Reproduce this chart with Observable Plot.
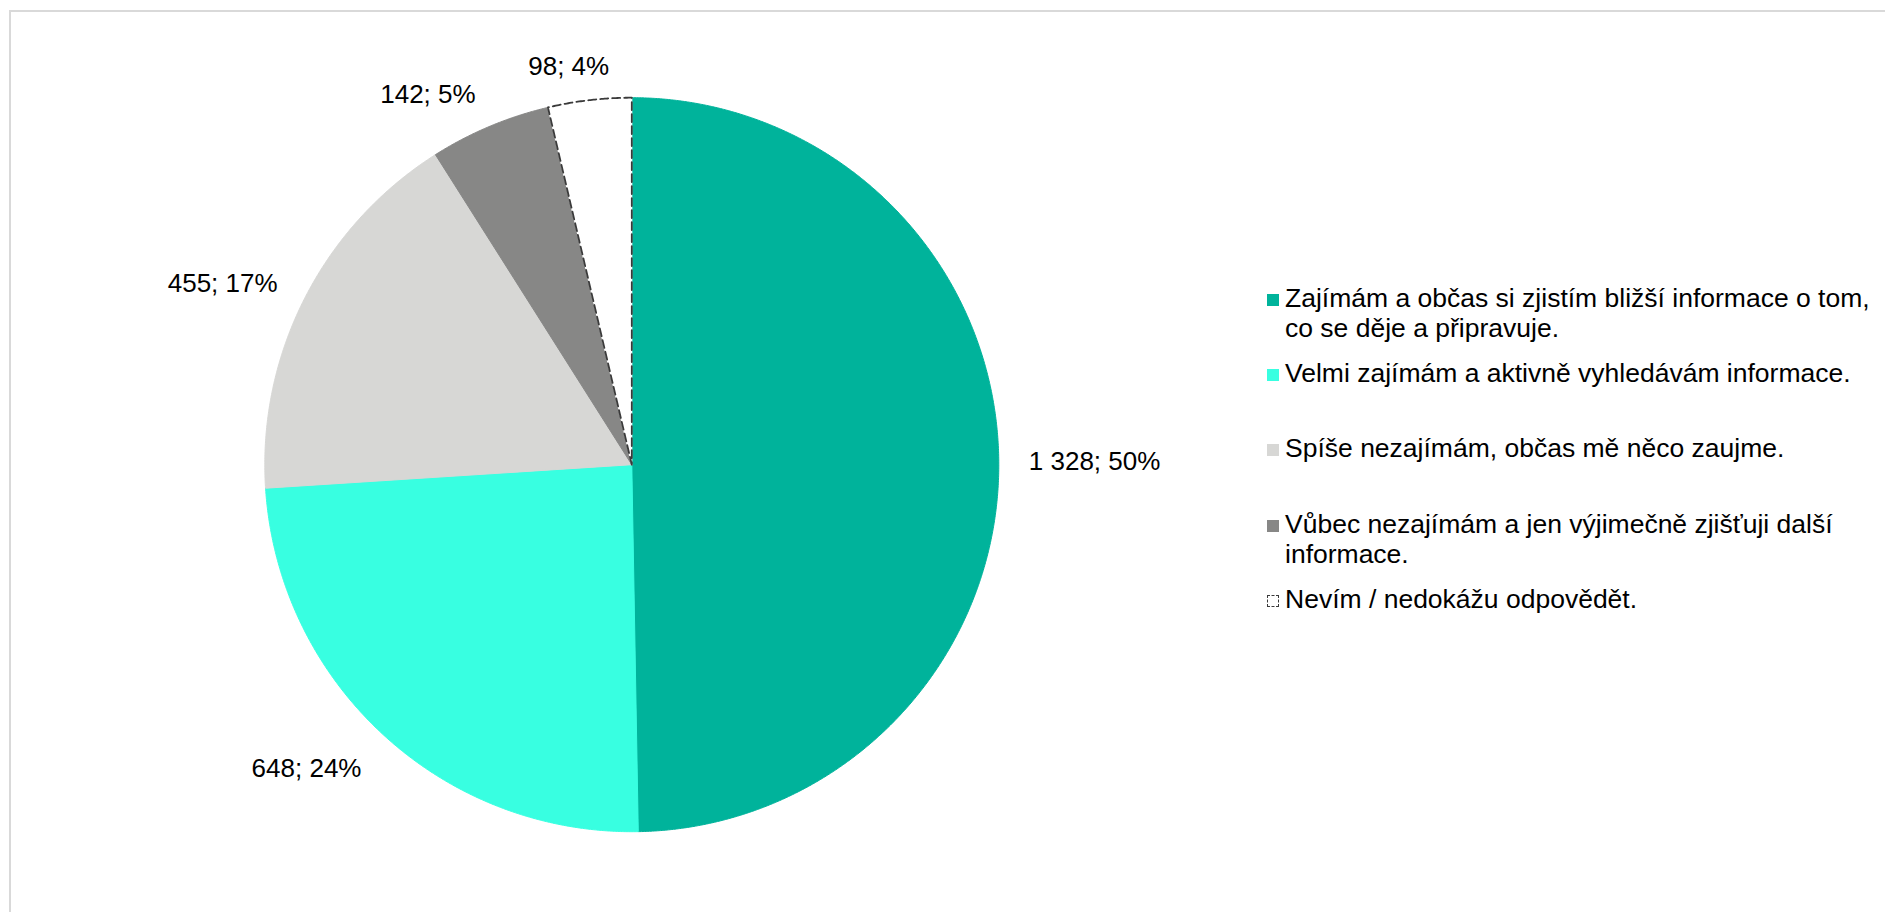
<!DOCTYPE html>
<html>
<head>
<meta charset="utf-8">
<script src="https://cdn.jsdelivr.net/npm/d3@7"></script>
<script src="https://cdn.jsdelivr.net/npm/@observablehq/plot@0.6"></script>
<style>
html, body { margin: 0; padding: 0; background: #fff; overflow: hidden; width: 1885px; height: 912px; }
#frame { position: absolute; left: 9px; top: 10px; width: 3000px; height: 3000px; border: 2px solid #d9d9d9; }
#chart { position: absolute; left: 0; top: 0; }
#legend { position: absolute; left: 1267px; top: 282.9px; font-family: "Liberation Sans", Arial, sans-serif; font-size: 26.5px; line-height: 30.5px; color: #000; }
.item { position: relative; height: 75.3px; padding-left: 18px; white-space: pre; }
.sw { position: absolute; left: 0; top: 11px; width: 12px; height: 12px; box-sizing: border-box; }
</style>
</head>
<body>
<div id="frame"></div>
<div id="chart"></div>
<div id="legend"></div>
<script>
// ---- data ----
const categories = [
  "Zajímám a občas si zjistím bližší informace o tom, co se děje a připravuje.",
  "Velmi zajímám a aktivně vyhledávám informace.",
  "Spíše nezajímám, občas mě něco zaujme.",
  "Vůbec nezajímám a jen výjimečně zjišťuji další informace.",
  "Nevím / nedokážu odpovědět."
];
const legendLines = [
  "Zajímám a občas si zjistím bližší informace o tom,\nco se děje a připravuje.",
  "Velmi zajímám a aktivně vyhledávám informace.",
  "Spíše nezajímám, občas mě něco zaujme.",
  "Vůbec nezajímám a jen výjimečně zjišťuji další\ninformace.",
  "Nevím / nedokážu odpovědět."
];
const values = [1328, 648, 455, 142, 98];
const colors = ["#00B39B", "#38FFE1", "#D7D7D5", "#878786", "#FFFFFF"];

// ---- layout ----
const W = 1885, H = 912;
const CX = 631.3, CY = 464.2, R = 367;
const LABEL_FONT = 26;
const total = d3.sum(values);
const fmt = d3.formatLocale({decimal: ",", thousands: " ", grouping: [3], currency: ["", ""]}).format(",d");

const canvas = document.createElement("canvas");
const ctx = canvas.getContext("2d");
ctx.font = LABEL_FONT + "px 'Liberation Sans'";

const clamp = t => Math.max(-1, Math.min(1, t));
let cum = 0;
const slices = [];
const labels = [];
values.forEach((v, i) => {
  const a0 = cum / total * 2 * Math.PI;
  cum += v;
  const a1 = cum / total * 2 * Math.PI;
  const pts = [{x: 0, y: 0}];
  const n = Math.max(2, Math.ceil((a1 - a0) / (0.25 * Math.PI / 180)));
  for (let k = 0; k <= n; k++) {
    const a = a0 + (a1 - a0) * k / n;
    pts.push({x: Math.sin(a), y: Math.cos(a)});
  }
  pts.push({x: 0, y: 0});
  slices.push(pts);

  // outside-end data label, placed beyond the arc along the slice bisector
  const text = fmt(v) + "; " + Math.round(v / total * 100) + "%";
  const mid = (a0 + a1) / 2;
  const ux = Math.sin(mid), uy = -Math.cos(mid);   // screen direction (y down)
  const w = ctx.measureText(text).width;
  const g = 26;
  const offX = g * ux + (w / 2 + 4) * clamp(3.5 * ux);
  const offY = g * uy + (uy > 0 ? 19 : 9) * uy + 1;
  labels.push({text, x: ux + offX / R, y: -uy - offY / R});
});

const marks = slices.map((pts, i) =>
  Plot.line(pts, {x: "x", y: "y", fill: colors[i], stroke: colors[i], strokeWidth: 1, curve: "linear"})
);
marks.push(Plot.line(slices[4], {x: "x", y: "y", stroke: "#3a3a3a", strokeWidth: 1.8, strokeDasharray: "8,4", curve: "linear"}));
marks.push(Plot.text(labels, {x: "x", y: "y", text: "text", fontSize: LABEL_FONT, textAnchor: "middle", lineAnchor: "middle", fill: "#000"}));

const plot = Plot.plot({
  width: W,
  height: H,
  margin: 0,
  x: {domain: [-1, 1], range: [CX - R, CX + R], axis: null},
  y: {domain: [-1, 1], range: [CY + R, CY - R], axis: null},
  style: {fontFamily: "'Liberation Sans', Arial, sans-serif", background: "transparent", overflow: "visible"},
  marks
});
document.getElementById("chart").appendChild(plot);

// ---- legend ----
const legend = document.getElementById("legend");
legendLines.forEach((t, i) => {
  const item = document.createElement("div");
  item.className = "item";
  const sw = document.createElement("div");
  sw.className = "sw";
  if (i === 4) {
    sw.style.background = "#fff";
    sw.style.border = "1px dashed #3a3a3a";
  } else {
    sw.style.background = colors[i];
  }
  item.appendChild(sw);
  item.appendChild(document.createTextNode(t));
  legend.appendChild(item);
});
</script>
</body>
</html>
